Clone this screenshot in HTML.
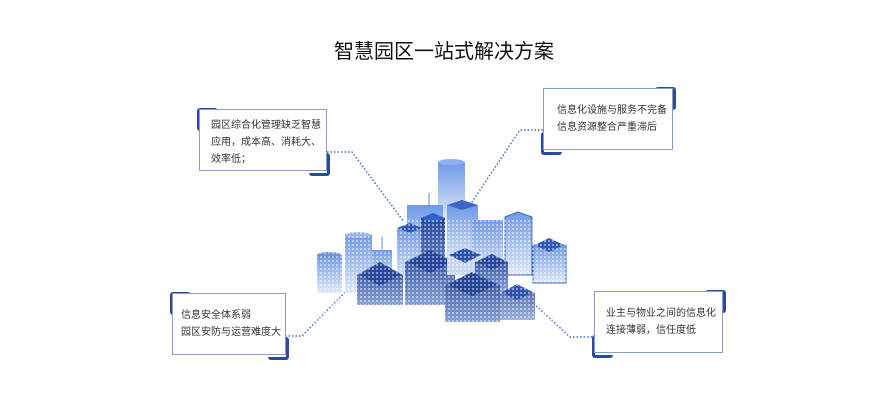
<!DOCTYPE html>
<html><head><meta charset="utf-8"><style>
body{margin:0;width:888px;height:402px;background:#fff;position:relative;overflow:hidden;font-family:"Liberation Sans","Noto Sans CJK SC",sans-serif;}
.t{position:absolute;left:0;width:888px;top:35px;text-align:center;font-size:20px;color:#111;}
.b{position:absolute;border:1px solid #8a9cc8;background:#fff;font-size:10px;color:#333;line-height:17px;box-sizing:border-box;z-index:2;}
.a{position:absolute;width:18px;height:20px;z-index:1;border-radius:3px;}
</style></head><body>
<div class="t">智慧园区一站式解决方案</div>
<svg width="888" height="402" style="position:absolute;left:0;top:0">
<defs>
<linearGradient id="lt" x1="0" y1="0" x2="0" y2="1"><stop offset="0" stop-color="#6f9ae8"/><stop offset="1" stop-color="#dfe8f8"/></linearGradient>
<linearGradient id="dk" x1="0" y1="0" x2="0" y2="1"><stop offset="0" stop-color="#24489e"/><stop offset="1" stop-color="#8aa2d8"/></linearGradient>
<pattern id="dots" width="4" height="4" patternUnits="userSpaceOnUse"><rect x="0" y="0" width="2" height="2" fill="#fff" opacity=".45"/></pattern>
</defs>
<g fill="none" stroke="#3a6fd8" stroke-width="1.5" stroke-dasharray="1.5 2">
<path d="M327 152 H352 L404 222"/>
<path d="M543 130 H520 L470 205"/>
<path d="M285 336 H302 L355 282"/>
<path d="M592 337 H570 L530 300"/>
</g>
<g>
<rect x="438" y="162" width="27" height="58" fill="url(#lt)"/><ellipse cx="451" cy="162" rx="13" ry="3" fill="#8fb0ee"/>
<rect x="407" y="205" width="36" height="65" fill="url(#lt)"/>
<rect x="447" y="205" width="31" height="60" fill="url(#lt)"/><polygon points="447,205 462,200 478,205 462,210" fill="#3b66c8"/>
<rect x="472" y="220" width="31" height="58" fill="url(#lt)"/>
<polygon points="505,217 518,212 532,217 532,275 505,275" fill="url(#lt)" stroke="#3b66c8" stroke-width="1"/>
<rect x="533" y="245" width="33" height="38" fill="url(#lt)" stroke="#3b66c8"/><polygon points="535,245 549,238 564,245 549,252" fill="#2d58b8"/>
<rect x="345" y="235" width="27" height="58" fill="url(#lt)"/><ellipse cx="358" cy="235" rx="13" ry="3" fill="#9ab6ee"/>
<rect x="317" y="255" width="25" height="38" fill="url(#lt)"/><ellipse cx="329" cy="255" rx="12" ry="3" fill="#6f92d8"/>
<rect x="372" y="250" width="20" height="32" fill="url(#lt)"/><line x1="382" y1="236" x2="382" y2="250" stroke="#5a84d8"/>
<line x1="429" y1="193" x2="429" y2="207" stroke="#5a84d8"/>
<rect x="397" y="228" width="25" height="55" fill="url(#lt)"/><polygon points="397,228 410,223 422,228 410,233" fill="#2d58b8"/>
<rect x="421" y="218" width="24" height="75" fill="url(#dk)"/><polygon points="421,218 433,213 445,218 433,223" fill="#3060c8"/>
</g>
<g>
<polygon points="357,275 380,262 403,275 403,305 357,305" fill="url(#dk)"/><polygon points="360,275 380,264 400,275 380,286" fill="#24489e"/>
<polygon points="405,262 430,250 455,262 455,305 405,305" fill="url(#dk)"/><polygon points="408,262 430,252 452,262 430,273" fill="#22449a"/>
<polygon points="447,255 465,246 483,255 483,275 447,275" fill="#c8d6f2"/><polygon points="449,255 465,248 481,255 465,263" fill="#2a52b0"/>
<polygon points="475,262 492,254 508,262 508,292 475,292" fill="url(#dk)"/><polygon points="477,262 492,255 506,262 492,270" fill="#26489e"/>
<polygon points="445,285 472,272 500,285 500,322 445,322" fill="url(#dk)"/><polygon points="448,285 472,274 497,285 472,296" fill="#22449a"/>
<polygon points="500,293 517,284 535,293 535,320 500,320" fill="url(#dk)" opacity=".85"/><polygon points="503,293 517,286 532,293 517,300" fill="#2a52b0"/>
<rect x="317" y="220" width="250" height="105" fill="url(#dots)"/>
</g>
</svg>
<div class="b" style="left:199px;top:109px;width:128px;height:62px;padding:7px 0 0 11px">园区综合化管理缺乏智慧<br>应用，成本高、消耗大、<br>效率低；</div>
<div class="a" style="left:197px;top:108px;border-top:3px solid #2a4aa0;border-left:3px solid #2a4aa0"></div>
<div class="a" style="left:309px;top:153px;border-bottom:3px solid #2a4aa0;border-right:3px solid #2a4aa0"></div>
<div class="b" style="left:543px;top:88px;width:130px;height:62px;padding:13px 0 0 13px">信息化设施与服务不完备<br>信息资源整合严重滞后</div>
<div class="a" style="left:655px;top:87px;border-top:3px solid #2a4aa0;border-right:3px solid #2a4aa0"></div>
<div class="a" style="left:541px;top:132px;border-bottom:3px solid #2a4aa0;border-left:3px solid #2a4aa0"></div>
<div class="b" style="left:172px;top:293px;width:114px;height:62px;padding:13px 0 0 8px">信息安全体系弱<br>园区安防与运营难度大</div>
<div class="a" style="left:170px;top:292px;border-top:3px solid #2a4aa0;border-left:3px solid #2a4aa0"></div>
<div class="a" style="left:268px;top:337px;border-bottom:3px solid #2a4aa0;border-right:3px solid #2a4aa0"></div>
<div class="b" style="left:594px;top:291px;width:129px;height:62px;padding:13px 0 0 11px">业主与物业之间的信息化<br>连接薄弱，信任度低</div>
<div class="a" style="left:705px;top:290px;border-top:3px solid #2a4aa0;border-right:3px solid #2a4aa0"></div>
<div class="a" style="left:592px;top:335px;border-bottom:3px solid #2a4aa0;border-left:3px solid #2a4aa0"></div>
</body></html>
